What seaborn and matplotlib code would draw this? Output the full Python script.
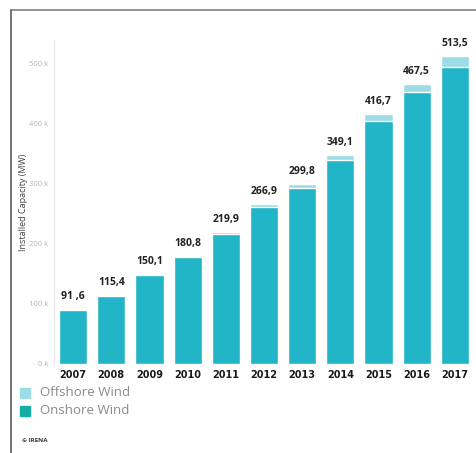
import matplotlib
matplotlib.use("Agg")
import matplotlib.pyplot as plt
from matplotlib.lines import Line2D
from matplotlib.patches import Rectangle
import seaborn as sns
import pandas as pd

# Global cumulative wind capacity (MW), total and offshore share
years = ["2007", "2008", "2009", "2010", "2011", "2012", "2013", "2014", "2015", "2016", "2017"]
total_mw = [91600, 115400, 150100, 180800, 219900, 266900, 299800, 349100, 416700, 467500, 513500]
offshore_mw = [1100, 1500, 2100, 3000, 3900, 5300, 7000, 8500, 12200, 14400, 18800]
onshore_mw = [t - o for t, o in zip(total_mw, offshore_mw)]
y_ticks = [0, 100000, 200000, 300000, 400000, 500000]
y_tick_labels = ["0 k", "100 k", "200 k", "300 k", "400 k", "500 k"]
total_labels = ["91 ,6", "115,4", "150,1", "180,8", "219,9", "266,9",
                "299,8", "349,1", "416,7", "467,5", "513,5"]

df = pd.DataFrame({"year": years, "total": total_mw, "onshore": onshore_mw})

ONSHORE = "#22B4C7"
OFFSHORE = "#9CDCE6"

sns.set_theme(style="white")
plt.rcParams["font.family"] = ["Open Sans", "DejaVu Sans"]

fig = plt.figure(figsize=(4.76, 4.53), dpi=100)
ax = fig.add_axes([54 / 476, (453 - 364) / 453, 420 / 476, 324 / 453])

sns.barplot(data=df, x="year", y="total", color=OFFSHORE, width=0.74,
            saturation=1, ax=ax)
sns.barplot(data=df, x="year", y="onshore", color=ONSHORE, width=0.74,
            saturation=1, ax=ax)

ax.set_ylim(0, 540000)
ax.set_xlim(-0.5, len(years) - 0.5)
ax.set_yticks(y_ticks)
ax.set_yticklabels(y_tick_labels, fontsize=5.5, color="#B5B5B5")
ax.tick_params(axis="y", length=0, pad=4)
ax.tick_params(axis="x", length=0, pad=4)
ax.set_xticks(range(len(years)))
ax.set_xticklabels(years, fontsize=7, fontweight="bold", color="#1A1A1A",
                   family="DejaVu Sans")
ax.set_xlabel("")
ax.set_ylabel("Installed Capacity (MW)", fontsize=6.5, color="#444444", labelpad=1)

for side in ["top", "right", "bottom"]:
    ax.spines[side].set_visible(False)
ax.spines["left"].set_color("#E6E6E6")
ax.spines["left"].set_linewidth(0.8)

# Value labels above each stack
for i, (t, lab) in enumerate(zip(total_mw, total_labels)):
    ax.annotate(lab, (i, t), xytext=(0, 5), textcoords="offset points",
                ha="center", va="bottom", fontsize=7.5, fontweight="bold",
                color="#222222")

# Legend swatches and labels
fig.patches.append(Rectangle((20 / 476, 1 - 398 / 453), 10 / 476, 10 / 453,
                             transform=fig.transFigure, color=OFFSHORE))
fig.patches.append(Rectangle((20 / 476, 1 - 416 / 453), 10 / 476, 10 / 453,
                             transform=fig.transFigure, color="#16ADA5"))
fig.text(40 / 476, 1 - 393 / 453, "Offshore Wind", fontsize=9.5, color="#8C8C8C",
         va="center", ha="left")
fig.text(40 / 476, 1 - 411 / 453, "Onshore Wind", fontsize=9.5, color="#8C8C8C",
         va="center", ha="left")
fig.text(22 / 476, 1 - 441 / 453, "© IRENA", fontsize=4.5, fontweight="bold",
         color="#333333", va="center", ha="left")

# Frame lines along the top and left edges
fig.add_artist(Line2D([11 / 476, 1], [1 - 10 / 453, 1 - 10 / 453],
                      transform=fig.transFigure, color="#8A8A8A", lw=1.3))
fig.add_artist(Line2D([11 / 476, 11 / 476], [0, 1 - 10 / 453],
                      transform=fig.transFigure, color="#6A6A6A", lw=1.3))

fig.savefig("out.png", dpi=100)
